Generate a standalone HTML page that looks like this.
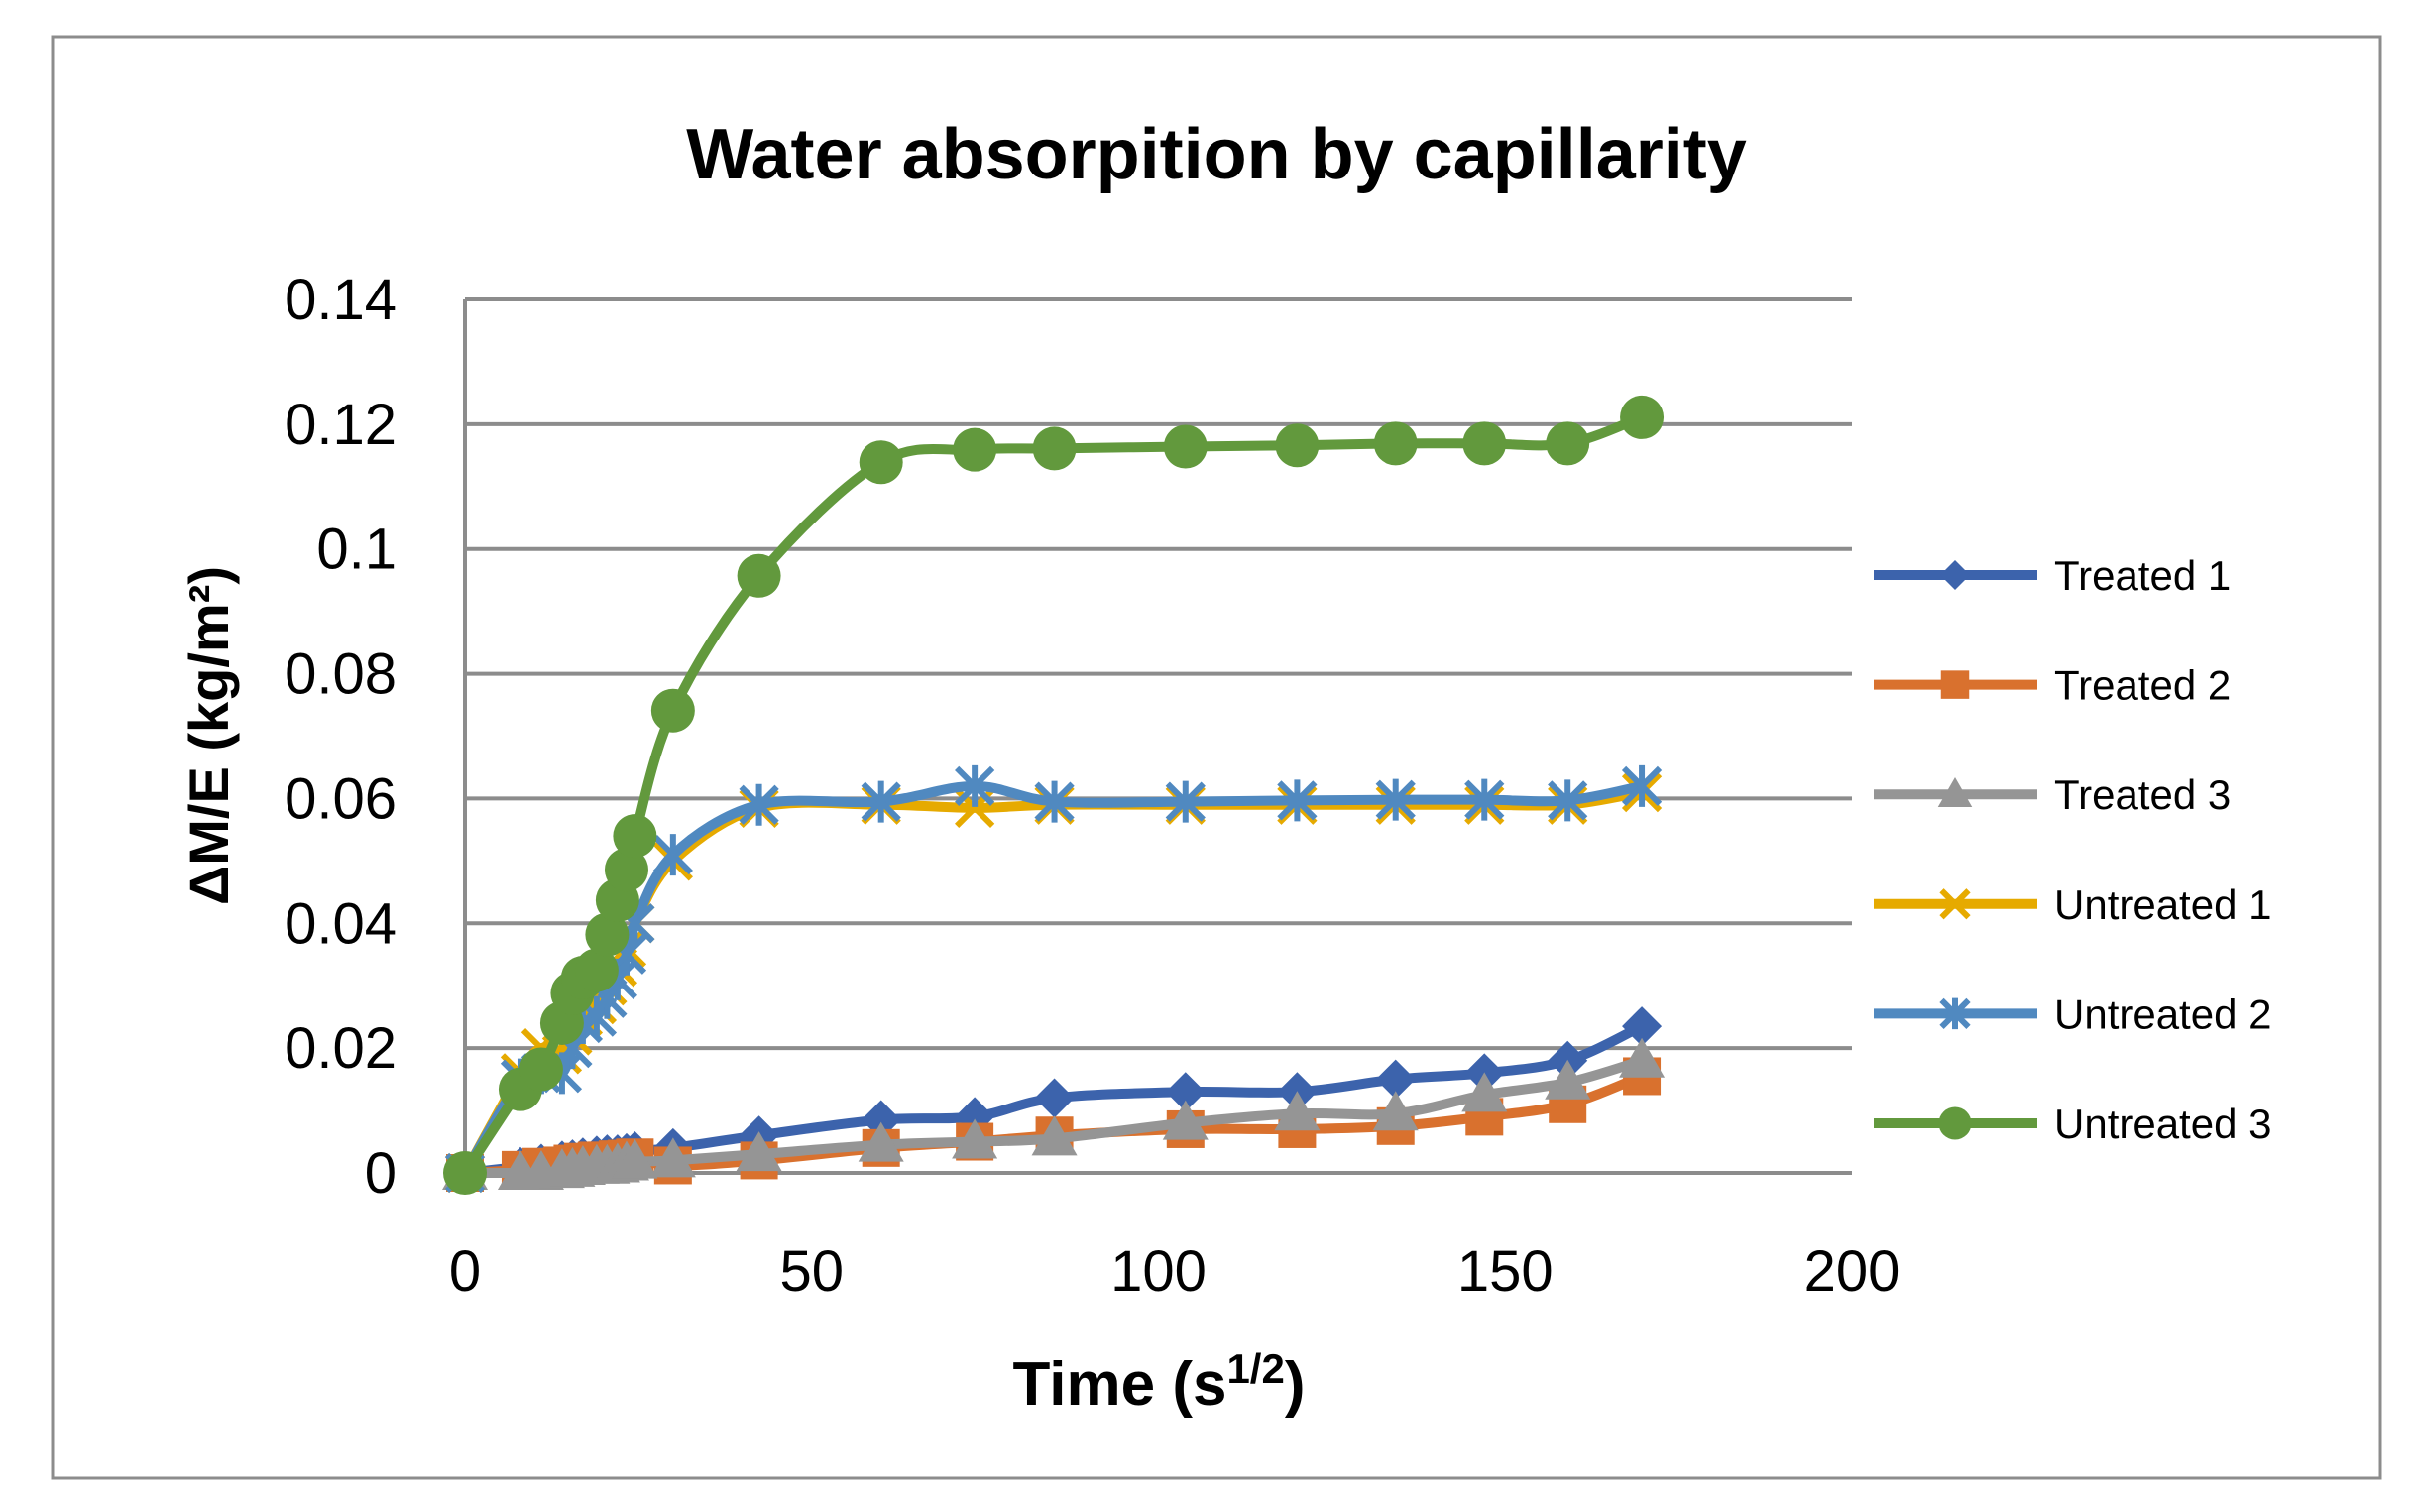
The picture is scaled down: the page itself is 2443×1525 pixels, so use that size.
<!DOCTYPE html>
<html><head><meta charset="utf-8"><style>
html,body{margin:0;padding:0;background:#fff}
svg{display:block}
text{font-family:"Liberation Sans",sans-serif}
</style></head><body>
<svg id="chart" width="2443" height="1525" viewBox="0 0 2443 1525" xmlns="http://www.w3.org/2000/svg">
<rect x="53" y="37" width="2348" height="1454" fill="#fff" stroke="#8c8c8c" stroke-width="3"/>
<text x="1227" y="180" text-anchor="middle" font-size="72" font-weight="bold" fill="#000">Water absorpition by capillarity</text>
<g id="grid"></g>
<g id="yticks"></g>
<g id="xticks"></g>
<text x="1169" y="1417" text-anchor="middle" font-size="62" font-weight="bold" fill="#000">Time (s<tspan font-size="42" dy="-22">1/2</tspan><tspan dy="22">)</tspan></text>
<text transform="translate(230,742) rotate(-90)" text-anchor="middle" font-size="56" font-weight="bold" fill="#000">ΔM/E (kg/m²)</text>
<g id="series"></g>
<g id="legend"></g>
</svg>
<script>
const xValues=[0,8,11,14,15.5,17,19,20.5,22,23.3,24.5,30,42.4,60,73.5,85,103.9,120,134.2,147,159,169.7];
const treated1=[0,0.001,0.0015,0.002,0.0022,0.0025,0.0028,0.003,0.003,0.0032,0.0035,0.004,0.006,0.0085,0.009,0.012,0.013,0.013,0.015,0.016,0.018,0.0235];
const treated2=[0,0.0005,0.001,0.0012,0.0015,0.0018,0.002,0.002,0.0022,0.0023,0.0025,0.0012,0.002,0.004,0.005,0.006,0.007,0.007,0.0075,0.009,0.011,0.0155];
const treated3=[0,0,0,0.0003,0.0005,0.0008,0.001,0.001,0.0012,0.0015,0.0018,0.002,0.003,0.0045,0.005,0.0055,0.008,0.0095,0.0095,0.0125,0.0145,0.018];
const untreated1=[0,0.016,0.02,0.019,0.022,0.025,0.027,0.03,0.033,0.036,0.04,0.05,0.0585,0.059,0.0585,0.059,0.059,0.059,0.059,0.059,0.059,0.061];
const untreated2=[0,0.015,0.016,0.016,0.02,0.024,0.025,0.028,0.031,0.035,0.04,0.051,0.059,0.0595,0.062,0.0595,0.0595,0.0597,0.0598,0.0598,0.0597,0.062];
const untreated3=[0,0.0134,0.0166,0.024,0.0288,0.0313,0.0325,0.0382,0.0437,0.0486,0.054,0.0741,0.0957,0.1139,0.1159,0.1161,0.1164,0.1166,0.1169,0.1169,0.1169,0.1211];
const seriesNames=["Treated 1","Treated 2","Treated 3","Untreated 1","Untreated 2","Untreated 3"];
const yTicks=[0,0.02,0.04,0.06,0.08,0.1,0.12,0.14];
const yTickLabels=["0","0.02","0.04","0.06","0.08","0.1","0.12","0.14"];
const xTicks=[0,50,100,150,200];
const xTickLabels=["0","50","100","150","200"];

const NS="http://www.w3.org/2000/svg";
const X0=469,X1=1868,Y0=1183,Y1=302;
function sx(v){return X0+(v-0)/(200-0)*(X1-X0);}
function sy(v){return Y0-(v-0)/(0.14-0)*(Y0-Y1);}
function mk(tag,attrs,parent){const e=document.createElementNS(NS,tag);for(const k in attrs)e.setAttribute(k,attrs[k]);parent.appendChild(e);return e;}

const grid=document.getElementById('grid');
yTicks.forEach((t,i)=>{
  const l=mk('line',{x1:X0,x2:X1,y1:sy(t),y2:sy(t),stroke:'#8c8c8c','stroke-width':4},grid);
  
  
  const tx=mk('text',{x:400,y:sy(t)+20,'text-anchor':'end','font-size':58,fill:'#000'},document.getElementById('yticks'));
  tx.textContent=yTickLabels[i];
  
  
});
const ax=mk('line',{x1:X0,x2:X0,y1:Y1,y2:Y0,stroke:'#8c8c8c','stroke-width':4},grid);


xTicks.forEach((t,i)=>{
  const tx=mk('text',{x:sx(t),y:1302,'text-anchor':'middle','font-size':58,fill:'#000'},document.getElementById('xticks'));
  tx.textContent=xTickLabels[i];
  
  
});

const colors=['#3c63ac','#d9712e','#959595','#e6aa00','#5089c0','#62993d'];
const markers=['diamond','square','triangle','x','star','circle'];
const data=[treated1,treated2,treated3,untreated1,untreated2,untreated3];

function smoothPath(pts){
  let d='M'+pts[0][0]+','+pts[0][1];
  for(let i=0;i<pts.length-1;i++){
    const p0=pts[Math.max(0,i-1)],p1=pts[i],p2=pts[i+1],p3=pts[Math.min(pts.length-1,i+2)];
    const t=1/6;
    const c1x=p1[0]+(p2[0]-p0[0])*t,c1y=p1[1]+(p2[1]-p0[1])*t;
    const c2x=p2[0]-(p3[0]-p1[0])*t,c2y=p2[1]-(p3[1]-p1[1])*t;
    d+=' C'+c1x+','+c1y+' '+c2x+','+c2y+' '+p2[0]+','+p2[1];
  }
  return d;
}
function drawMarker(type,x,y,c,g,s){
  let e;
  if(type==='diamond') e=mk('path',{d:`M${x},${y-20*s}L${x+20*s},${y}L${x},${y+20*s}L${x-20*s},${y}Z`,fill:c},g);
  else if(type==='square') e=mk('rect',{x:x-19*s,y:y-19*s,width:38*s,height:38*s,fill:c},g);
  else if(type==='triangle') e=mk('path',{d:`M${x},${y-23*s}L${x+23*s},${y+17*s}L${x-23*s},${y+17*s}Z`,fill:c},g);
  else if(type==='circle') e=mk('circle',{cx:x,cy:y,r:22*s,fill:c},g);
  else if(type==='x') e=mk('path',{d:`M${x-18*s},${y-18*s}L${x+18*s},${y+18*s}M${x-18*s},${y+18*s}L${x+18*s},${y-18*s}`,stroke:c,'stroke-width':6},g);
  else e=mk('path',{d:`M${x-18*s},${y-18*s}L${x+18*s},${y+18*s}M${x-18*s},${y+18*s}L${x+18*s},${y-18*s}M${x},${y-21*s}L${x},${y+21*s}`,stroke:c,'stroke-width':6},g);
  return e;
}
const sg=document.getElementById('series');
data.forEach((arr,si)=>{
  const g=mk('g',{},sg);
  
  
  const pts=arr.map((v,i)=>[sx(xValues[i]),sy(v)]);
  const p=mk('path',{d:smoothPath(pts),fill:'none',stroke:colors[si],'stroke-width':10,'stroke-linejoin':'round'},g);
  
  
  pts.forEach(pt=>{
    const m=drawMarker(markers[si],pt[0],pt[1],colors[si],g,1);
    
    
  });
});
const lg=document.getElementById('legend');
seriesNames.forEach((n,i)=>{
  const y=580+i*110.6;
  const g=mk('g',{},lg);
  
  
  mk('line',{x1:1890,x2:2055,y1:y,y2:y,stroke:colors[i],'stroke-width':10},g);
  drawMarker(markers[i],1972,y,colors[i],g,0.75);
  const t=mk('text',{x:2072,y:y+15,'font-size':42,fill:'#000'},g);
  t.textContent=n;
});
</script>
</body></html>
